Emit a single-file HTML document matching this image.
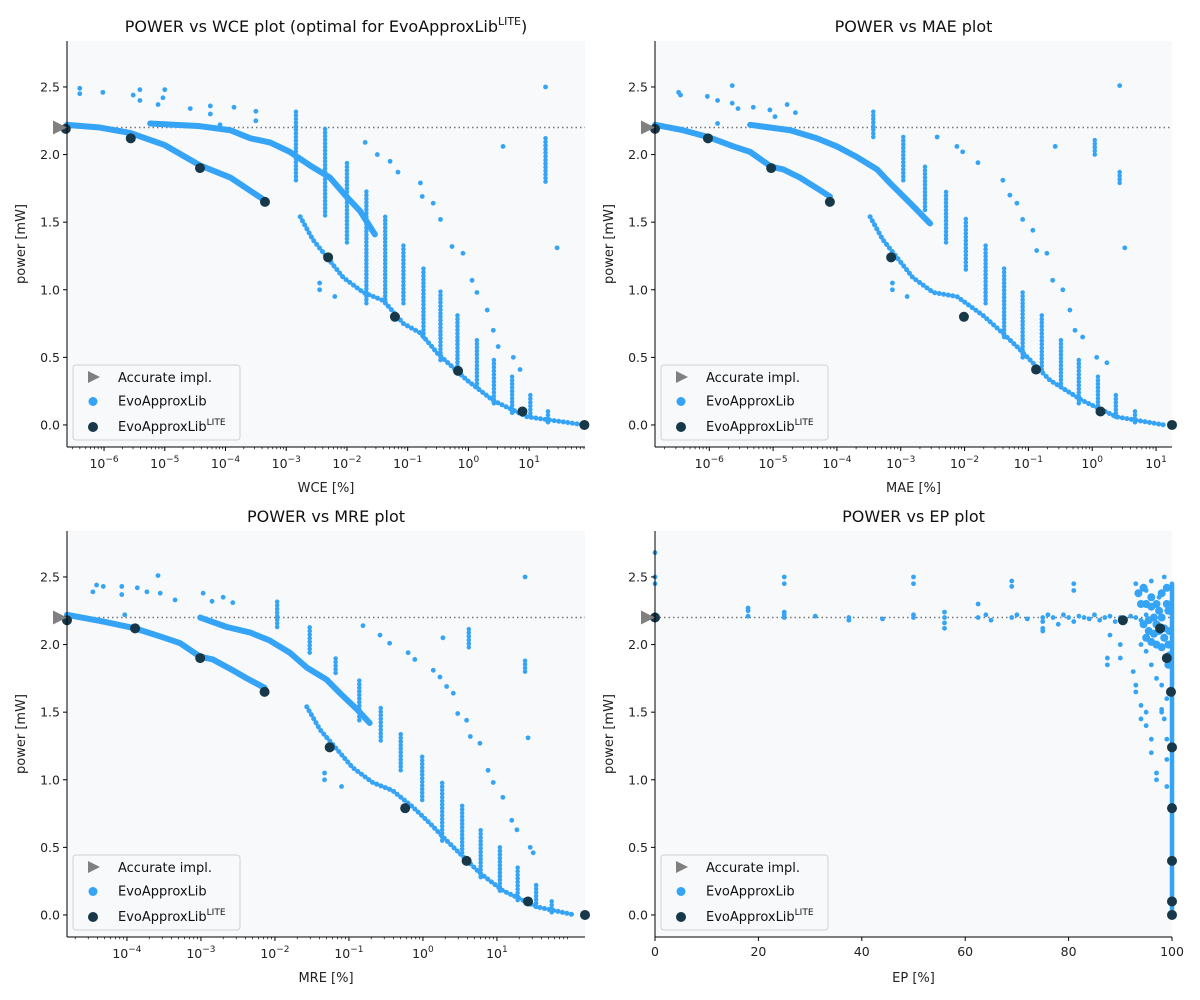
<!DOCTYPE html>
<html><head><meta charset="utf-8"><style>
html,body{margin:0;padding:0;background:#fff;}
svg{display:block;font-family:"DejaVu Sans","Liberation Sans",sans-serif;}
</style></head><body>
<svg id="chart" width="1200" height="1000" viewBox="0 0 1200 1000"></svg>
<script>
// ---------- shared axis data ----------
const yTicks = [0, 0.5, 1.0, 1.5, 2.0, 2.5];
const yTickLabels = ["0.0","0.5","1.0","1.5","2.0","2.5"];
const accuratePower = [2.2];
const logTicksWCE = [-6,-5,-4,-3,-2,-1,0,1];
const logTicksMAE = [-6,-5,-4,-3,-2,-1,0,1];
const logTicksMRE = [-4,-3,-2,-1,0,1];
const epTicks = [0,20,40,60,80,100];

// ---------- WCE (x stored as log10 of %) ----------
const wceLowerBand = [[-6.61,2.22],[-6.07,2.20],[-5.57,2.16],[-5.0,2.07],[-4.42,1.92],[-3.92,1.83],[-3.35,1.66]];
const wceUpperBand = [[-5.24,2.23],[-4.42,2.21],[-3.92,2.18],[-3.59,2.12],[-3.27,2.09],[-2.94,2.02],[-2.61,1.92],[-2.28,1.83],[-2.03,1.70],[-1.78,1.58],[-1.54,1.41]];
const wceTailCurve = [[-2.77,1.54],[-2.56,1.37],[-2.06,1.09],[-1.73,0.98],[-1.40,0.92],[-1.07,0.75],[-0.79,0.68],[-0.51,0.53],[-0.02,0.33],[0.41,0.18],[0.97,0.06],[1.92,0.0]];
const wceStreaks = [[-2.84,1.81,2.33],[-2.36,1.55,2.20],[-2.0,1.35,1.94],[-1.68,0.90,1.74],[-1.37,0.90,1.54],[-1.07,0.90,1.35],[-0.74,0.65,1.17],[-0.46,0.48,1.0],[-0.18,0.41,0.83],[0.14,0.28,0.65],[0.42,0.16,0.50],[0.72,0.09,0.36],[1.02,0.06,0.24],[1.31,0.02,0.11],[1.27,1.80,2.13]];
const wceSparse = [[-1.70,2.09],[-1.50,2.0],[-1.29,1.95],[-1.16,1.87],[-0.79,1.79],[-0.76,1.69],[-0.58,1.64],[-0.46,1.52],[-0.27,1.32],[-0.09,1.27],[0.06,1.07],[0.14,0.98],[0.31,0.85],[0.41,0.70],[0.49,0.58],[0.74,0.50],[0.85,0.41]];
const wceOutliers = [[-6.40,2.49],[-6.40,2.45],[-6.02,2.46],[-5.52,2.44],[-5.41,2.48],[-5.41,2.40],[-5.0,2.48],[-5.03,2.42],[-5.11,2.37],[-4.58,2.34],[-4.25,2.36],[-4.25,2.30],[-3.86,2.35],[-3.50,2.32],[-3.50,2.25],[-4.09,2.22],[1.27,2.50],[1.46,1.31],[0.57,2.06],[-2.45,1.05],[-2.45,1.0],[-2.20,0.95]];
const wceLite = [[-6.63,2.19],[-5.56,2.12],[-4.42,1.90],[-3.35,1.65],[-2.31,1.24],[-1.21,0.80],[-0.17,0.40],[0.89,0.10],[1.91,0.0]];

// ---------- MAE ----------
const maeLowerBand = [[-6.85,2.22],[-6.41,2.18],[-6.02,2.13],[-5.62,2.06],[-5.36,2.02],[-5.03,1.91],[-4.84,1.89],[-4.58,1.83],[-4.31,1.75],[-4.11,1.69]];
const maeUpperBand = [[-5.36,2.22],[-4.73,2.18],[-4.31,2.12],[-4.0,2.06],[-3.68,1.98],[-3.37,1.89],[-3.17,1.79],[-2.85,1.64],[-2.54,1.49]];
const maeTailCurve = [[-3.48,1.54],[-3.28,1.37],[-2.81,1.09],[-2.49,0.98],[-2.12,0.95],[-1.71,0.81],[-1.45,0.70],[-1.18,0.58],[-0.66,0.33],[-0.15,0.18],[0.38,0.06],[1.13,0.0]];
const maeStreaks = [[-3.43,2.13,2.33],[-2.96,1.81,2.13],[-2.62,1.59,1.92],[-2.29,1.35,1.74],[-1.98,1.15,1.54],[-1.67,0.90,1.35],[-1.38,0.65,1.17],[-1.09,0.50,1.0],[-0.79,0.41,0.83],[-0.49,0.28,0.65],[-0.21,0.16,0.50],[0.09,0.09,0.36],[0.37,0.06,0.24],[0.67,0.02,0.11],[0.43,1.79,1.89],[0.04,2.0,2.13]];
const maeSparse = [[-2.43,2.13],[-2.12,2.06],[-2.03,2.02],[-1.79,1.94],[-1.40,1.81],[-1.29,1.70],[-1.18,1.64],[-1.09,1.52],[-0.93,1.44],[-0.87,1.29],[-0.71,1.27],[-0.62,1.07],[-0.46,1.0],[-0.35,0.85],[-0.27,0.70],[-0.15,0.65],[0.07,0.50],[0.23,0.46]];
const maeOutliers = [[-6.45,2.44],[-6.48,2.46],[-6.03,2.43],[-5.87,2.40],[-5.64,2.51],[-5.64,2.38],[-5.55,2.34],[-5.31,2.35],[-5.05,2.33],[-4.97,2.28],[-4.78,2.37],[-4.65,2.31],[-5.87,2.23],[0.43,2.51],[0.51,1.31],[-0.58,2.06],[-3.13,1.05],[-3.13,1.0],[-2.90,0.95]];
const maeLite = [[-6.85,2.19],[-6.02,2.12],[-5.03,1.90],[-4.11,1.65],[-3.15,1.24],[-2.01,0.80],[-0.88,0.41],[0.13,0.10],[1.25,0.0]];

// ---------- MRE ----------
const mreLowerBand = [[-4.81,2.22],[-4.32,2.17],[-3.89,2.12],[-3.55,2.06],[-3.28,2.01],[-3.01,1.91],[-2.84,1.89],[-2.57,1.81],[-2.38,1.75],[-2.14,1.68]];
const mreUpperBand = [[-3.01,2.20],[-2.65,2.13],[-2.34,2.09],[-2.07,2.03],[-1.80,1.94],[-1.57,1.83],[-1.30,1.74],[-1.12,1.64],[-0.89,1.52],[-0.72,1.42]];
const mreTailCurve = [[-1.57,1.54],[-1.39,1.37],[-0.95,1.09],[-0.68,0.98],[-0.41,0.92],[-0.14,0.80],[0.09,0.68],[0.32,0.55],[0.77,0.31],[1.08,0.18],[1.54,0.06],[2.05,0.0]];
const mreStreaks = [[-1.97,2.13,2.33],[-1.53,1.94,2.13],[-1.18,1.79,1.92],[-0.86,1.44,1.74],[-0.57,1.29,1.54],[-0.30,1.07,1.35],[-0.01,0.85,1.17],[0.26,0.55,1.0],[0.53,0.46,0.83],[0.78,0.28,0.65],[1.04,0.18,0.50],[1.28,0.11,0.36],[1.53,0.06,0.24],[1.74,0.02,0.11],[0.62,1.98,2.13],[1.38,1.80,1.89]];
const mreSparse = [[-0.81,2.14],[-0.58,2.07],[-0.45,2.01],[-0.20,1.94],[-0.11,1.89],[0.14,1.81],[0.23,1.76],[0.32,1.69],[0.41,1.64],[0.47,1.49],[0.59,1.44],[0.64,1.32],[0.77,1.27],[0.88,1.07],[0.95,0.98],[1.08,0.87],[1.20,0.70],[1.27,0.63],[1.45,0.50],[1.49,0.46]];
const mreOutliers = [[-4.41,2.44],[-4.32,2.43],[-4.46,2.39],[-4.07,2.43],[-4.07,2.37],[-3.86,2.42],[-3.73,2.39],[-3.58,2.51],[-3.55,2.38],[-3.35,2.33],[-2.97,2.38],[-2.85,2.32],[-2.70,2.35],[-2.57,2.31],[-4.03,2.22],[1.38,2.50],[1.42,1.31],[0.27,2.05],[-1.33,1.05],[-1.33,1.0],[-1.10,0.95]];
const mreLite = [[-4.81,2.18],[-3.89,2.12],[-3.01,1.90],[-2.14,1.65],[-1.26,1.24],[-0.24,0.79],[0.59,0.40],[1.42,0.10],[2.19,0.0]];

// ---------- EP (linear %) ----------
const epBand = [[0,2.2],[0,2.22],[0,2.18],[18,2.21],[18,2.25],[25,2.2],[25,2.24],[25,2.22],[31,2.21],[37.5,2.2],[37.5,2.18],[44,2.19],[50,2.2],[50,2.22],[56,2.2],[56,2.16],[56,2.24],[62.5,2.2],[64,2.22],[65,2.18],[69,2.2],[70,2.22],[72,2.19],[75,2.2],[75,2.17],[76,2.22],[77,2.2],[78,2.15],[79,2.22],[80,2.2],[81,2.17],[82,2.21],[83,2.2],[84,2.19],[85,2.22],[86,2.18],[87,2.2],[88,2.21],[89,2.17],[90,2.2],[91,2.19],[92,2.21],[93,2.2],[94,2.18],[95,2.22]];
const epOutliers = [[0,2.68],[0,2.5],[0,2.45],[18,2.27],[25,2.5],[25,2.45],[50,2.5],[50,2.45],[56,2.12],[62.5,2.3],[69,2.47],[69,2.43],[75,2.12],[75,2.1],[81,2.45],[81,2.4],[87.5,1.9],[87.5,1.85],[88,2.07],[90,2.0],[90,1.9],[92.5,1.8],[93,1.7],[93,1.65],[94,1.55],[94,1.45],[95,1.5],[95,1.4],[96,1.3],[96,1.2],[97,1.05],[97,1.0],[98,1.52],[98,1.5],[97.5,2.35],[95,2.4],[93,2.45],[96,2.47],[98.5,2.5],[99,1.3],[94,2.0],[95,1.95],[96,1.85],[97,1.75],[98,1.7],[99,1.6],[98.5,1.45],[99,1.15],[99,0.95]];
const epBlob = [[94.5,2.15],[95.5,2.1],[96.5,2.08],[97.5,2.1],[98.5,2.05],[99.3,2.0],[95,2.3],[96,2.35],[97,2.3],[98,2.38],[99,2.42],[93.5,2.38],[94.5,2.42],[96.5,2.2],[98,2.2],[99.3,2.25],[97,2.0],[99.3,1.85],[95.5,2.18],[97,2.15],[98.5,2.12],[99.5,2.1],[96,2.02],[98,1.98],[99.5,1.92],[95,2.05],[97.5,2.25],[99,2.3],[94,2.3],[96,2.28]];
const epVertical = [[100,0.0,2.45]];
const epLite = [[0,2.2],[90.5,2.18],[97.7,2.12],[99.0,1.90],[99.8,1.65],[100,1.24],[100,0.79],[100,0.40],[100,0.10],[100,0.0]];

// ---------- rendering ----------
const NS = "http://www.w3.org/2000/svg";
const svg = document.getElementById("chart");
const BLUE = "#35a4f6", DARK = "#173848", GRAY = "#808080";
const YMIN = -0.163, YMAX = 2.84;

function mk(tag, attrs, parent) {
  const e = document.createElementNS(NS, tag);
  for (const k in attrs) e.setAttribute(k, attrs[k]);
  (parent || svg).appendChild(e);
  return e;
}

function drawPanel(cfg) {
  const g = mk("g", {});
  
  
  const {x0, y0, w, h, xmin, xmax} = cfg;
  const sx = v => x0 + (v - xmin) / (xmax - xmin) * w;
  const sy = p => y0 + (YMAX - p) / (YMAX - YMIN) * h;

  const bg = mk("rect", {x: x0, y: y0, width: w, height: h, fill: "#f7f9fb"}, g);
  
  

  const clipId = "clip-" + cfg.name;
  const cp = mk("clipPath", {id: clipId}, g);
  mk("rect", {x: x0 - 6, y: y0, width: w + 12, height: h}, cp);
  const marks = mk("g", {"clip-path": "url(#" + clipId + ")"}, g);

  accuratePower.forEach(p => {
    const ln = mk("line", {x1: x0, x2: x0 + w, y1: sy(p), y2: sy(p), stroke: "#777", "stroke-width": 1.5, "stroke-dasharray": "1.5 3"}, marks);
    
    
  });

  const d = cfg.data;
  [d.lower, d.upper].forEach((band, bi) => {
    if (!band) return;
    const pl = mk("polyline", {points: band.map(q => sx(q[0]) + "," + sy(q[1])).join(" "), fill: "none", stroke: BLUE, "stroke-width": 6, "stroke-linecap": "round", "stroke-linejoin": "round"}, marks);
    
    
  });
  if (d.tail) {
    const pl = mk("polyline", {points: d.tail.map(q => sx(q[0]) + "," + sy(q[1])).join(" "), fill: "none", stroke: BLUE, "stroke-width": 5, "stroke-linecap": "round", "stroke-linejoin": "round", "stroke-dasharray": "0.1 4.5"}, marks);
    
    
  }
  (d.streaks || []).forEach(s => {
    const ln = mk("line", {x1: sx(s[0]), x2: sx(s[0]), y1: sy(s[1]), y2: sy(s[2]), stroke: BLUE, "stroke-width": 4.5, "stroke-linecap": "round", "stroke-dasharray": cfg.name === "ep" ? "none" : "0.1 3.5"}, marks);
    
    
  });
  [d.sparse, d.outliers, d.band].forEach(arr => {
    (arr || []).forEach(q => {
      const c = mk("circle", {cx: sx(q[0]), cy: sy(q[1]), r: 2.4, fill: BLUE}, marks);
      
      
    });
  });
  (d.blob || []).forEach(q => {
    const c = mk("circle", {cx: sx(q[0]), cy: sy(q[1]), r: 4, fill: BLUE}, marks);
    
    
  });
  (d.lite || []).forEach(q => {
    const c = mk("circle", {cx: sx(q[0]), cy: sy(q[1]), r: 5, fill: DARK}, g);
    
    
  });
  accuratePower.forEach(p => {
    const tx = x0 - 7, ty = sy(p);
    const t = mk("polygon", {points: (tx - 7) + "," + (ty - 7) + " " + (tx + 7) + "," + ty + " " + (tx - 7) + "," + (ty + 7), fill: GRAY}, g);
    
    
  });

  const sp1 = mk("line", {x1: x0, x2: x0, y1: y0, y2: y0 + h, stroke: "#000", "stroke-width": 1}, g);
  
  
  const sp2 = mk("line", {x1: x0, x2: x0 + w, y1: y0 + h, y2: y0 + h, stroke: "#000", "stroke-width": 1}, g);
  
  

  yTicks.forEach((v, i) => {
    const y = sy(v);
    mk("line", {x1: x0 - 4, x2: x0, y1: y, y2: y, stroke: "#000"}, g);
    const t = mk("text", {x: x0 - 7, y: y + 4.5, "text-anchor": "end", "font-size": 12.5, fill: "#222"}, g);
    t.textContent = yTickLabels[i];
    
    
  });
  const yl = mk("text", {x: 0, y: 0, "text-anchor": "middle", "font-size": 13, fill: "#222", transform: "translate(" + (x0 - 42) + "," + (y0 + h / 2) + ") rotate(-90)"}, g);
  yl.textContent = "power [mW]";
  
  

  const by = y0 + h;
  if (cfg.log) {
    for (let dcd = Math.floor(xmin); dcd <= xmax; dcd++) {
      for (let k = 2; k <= 9; k++) {
        const v = dcd + Math.log10(k);
        if (v > xmin && v < xmax) mk("line", {x1: sx(v), x2: sx(v), y1: by, y2: by + 2.2, stroke: "#000", "stroke-width": 0.7}, g);
      }
    }
    cfg.ticks.forEach(v => {
      const x = sx(v);
      mk("line", {x1: x, x2: x, y1: by, y2: by + 4, stroke: "#000"}, g);
      const t = mk("text", {x: x, y: by + 21, "text-anchor": "middle", "font-size": 12.5, fill: "#222"}, g);
      
      
      const a = mk("tspan", {}, t); a.textContent = "10";
      const b = mk("tspan", {dy: -6, "font-size": 9}, t); b.textContent = (v < 0 ? "\u2212" : "") + Math.abs(v);
    });
  } else {
    cfg.ticks.forEach(v => {
      const x = sx(v);
      mk("line", {x1: x, x2: x, y1: by, y2: by + 4, stroke: "#000"}, g);
      const t = mk("text", {x: x, y: by + 19, "text-anchor": "middle", "font-size": 12.5, fill: "#222"}, g);
      t.textContent = String(v);
      
      
    });
  }
  const xl = mk("text", {x: x0 + w / 2, y: by + 45, "text-anchor": "middle", "font-size": 13, fill: "#222"}, g);
  xl.textContent = cfg.xlabel;
  
  

  const tt = mk("text", {x: x0 + w / 2, y: y0 - 9, "text-anchor": "middle", "font-size": 16, fill: "#111"}, g);
  
  
  const t1 = mk("tspan", {}, tt); t1.textContent = cfg.title;
  if (cfg.titleSup) {
    const t2 = mk("tspan", {dy: -7, "font-size": 11}, tt); t2.textContent = "LITE";
    const t3 = mk("tspan", {dy: 7}, tt); t3.textContent = ")";
  }

  const lg = mk("g", {}, g);
  
  
  const lx = x0 + 6, ly = y0 + h - 82;
  mk("rect", {x: lx, y: ly, width: 167, height: 75, rx: 3, fill: "#f7f9fb", stroke: "#d0d0d0", "stroke-width": 1, opacity: 0.95}, lg);
  const rows = [["Accurate impl.", "tri"], ["EvoApproxLib", BLUE], ["EvoApproxLib", DARK]];
  rows.forEach((r, i) => {
    const cy = ly + 12 + i * 23.5 + (i === 2 ? 2 : 0);
    const ent = mk("g", {}, lg);
    
    
    if (r[1] === "tri") mk("polygon", {points: (lx + 15) + "," + (cy - 6) + " " + (lx + 27) + "," + cy + " " + (lx + 15) + "," + (cy + 6), fill: GRAY}, ent);
    else mk("circle", {cx: lx + 20, cy: cy + 1, r: i === 1 ? 4.5 : 5, fill: r[1]}, ent);
    const t = mk("text", {x: lx + 45, y: cy + 5, "font-size": 13, fill: "#111"}, ent);
    const a = mk("tspan", {}, t); a.textContent = r[0];
    if (i === 2) { const b = mk("tspan", {dy: -6, "font-size": 9}, t); b.textContent = "LITE"; }
  });
}

drawPanel({name: "wce", x0: 67, y0: 41, w: 518, h: 406, xmin: -6.61, xmax: 1.92, log: true, ticks: logTicksWCE, xlabel: "WCE [%]", title: "POWER vs WCE plot (optimal for EvoApproxLib", titleSup: true,
  data: {lower: wceLowerBand, upper: wceUpperBand, tail: wceTailCurve, streaks: wceStreaks, sparse: wceSparse, outliers: wceOutliers, lite: wceLite}});
drawPanel({name: "mae", x0: 655, y0: 41, w: 517, h: 406, xmin: -6.85, xmax: 1.25, log: true, ticks: logTicksMAE, xlabel: "MAE [%]", title: "POWER vs MAE plot",
  data: {lower: maeLowerBand, upper: maeUpperBand, tail: maeTailCurve, streaks: maeStreaks, sparse: maeSparse, outliers: maeOutliers, lite: maeLite}});
drawPanel({name: "mre", x0: 67, y0: 531, w: 518, h: 406, xmin: -4.81, xmax: 2.19, log: true, ticks: logTicksMRE, xlabel: "MRE [%]", title: "POWER vs MRE plot",
  data: {lower: mreLowerBand, upper: mreUpperBand, tail: mreTailCurve, streaks: mreStreaks, sparse: mreSparse, outliers: mreOutliers, lite: mreLite}});
drawPanel({name: "ep", x0: 655, y0: 531, w: 517, h: 406, xmin: 0, xmax: 100, log: false, ticks: epTicks, xlabel: "EP [%]", title: "POWER vs EP plot",
  data: {band: epBand, outliers: epOutliers, blob: epBlob, streaks: epVertical, lite: epLite}});
</script>
</body></html>
